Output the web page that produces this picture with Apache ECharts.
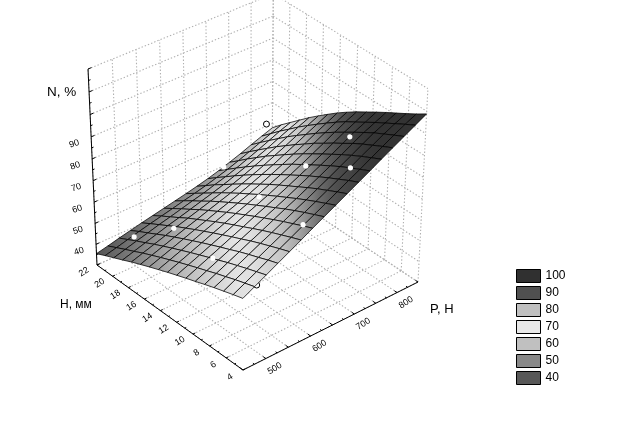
<!DOCTYPE html>
<html><head><meta charset="utf-8">
<style>html,body{margin:0;padding:0;background:#fff}#c{width:625px;height:421px}</style>
<script src="https://cdn.jsdelivr.net/npm/echarts@6/dist/echarts.min.js"></script>
</head><body><div id="c"></div>
<script>
const pTicks=[500,600,700,800];
const pGrid=[450,500,550,600,650,700,750,800,850];
const hTicks=[22,20,18,16,14,12,10,8,6,4];
const nTicks=[40,50,60,70,80,90];
const nGrid=[30,40,50,60,70,80,90,100,110,120];
const legendNames=['100','90','80','70','60','50','40'];
const legendColors=['#303030','#505050','#c0c0c0','#e8e8e8','#c0c0c0','#888888','#585858'];
const colorStops=[[35,0x50],[45,0x88],[55,0xc0],[65,0xea],[75,0xc0],[85,0x55],[95,0x33]];
const surfP=[450,475,500,525,550,575,600,625,650,675,700,725,750,775,800,825,850];
const surfH=[4,5.125,6.25,7.375,8.5,9.625,10.75,11.875,13,14.125,15.25,16.375,17.5,18.625,19.75,20.875,22];
const surfN=[
[63.8,66.6,69.4,72.2,75,77.8,80.7,83.5,86.3,89.1,91.9,94.7,97.6,100.4,103.2,106,108.8],
[62.4,65.1,67.8,70.6,73.3,76,78.8,81.5,84.2,87,89.8,92.5,95.4,98.2,101,103.6,106],
[60.9,63.6,66.2,68.8,71.5,74.1,76.8,79.5,82.1,84.8,87.5,90.3,93.2,95.9,98.7,101.1,103.4],
[59.4,61.9,64.5,67.1,69.7,72.2,74.8,77.4,79.9,82.6,85.2,88,90.8,93.6,96.4,98.6,100.9],
[57.8,60.3,62.8,65.3,67.8,70.2,72.7,75.2,77.6,80.2,82.8,85.5,88.3,91.1,93.8,96.1,98.4],
[56.1,58.5,60.9,63.3,65.7,68.1,70.5,72.8,75.2,77.7,80.3,82.9,85.6,88.3,91.1,93.4,95.8],
[54.5,56.8,59.1,61.4,63.7,65.9,68.3,70.5,72.8,75.2,77.7,80.2,82.9,85.6,88.3,90.7,93.1],
[52.8,55,57.2,59.4,61.6,63.8,66,68.1,70.3,72.7,75,77.5,80.1,82.7,85.5,88.1,90.4],
[51.1,53.2,55.3,57.4,59.5,61.6,63.7,65.7,67.8,70.1,72.3,74.8,77.3,79.9,82.5,85.1,87.5],
[49.3,51.3,53.3,55.3,57.3,59.3,61.3,63.2,65.1,67.3,69.5,71.8,74.3,76.7,79.4,81.9,84.4],
[47.5,49.4,51.3,53.2,55.1,56.9,58.8,60.6,62.5,64.5,66.6,68.8,71.2,73.6,76.1,78.6,81],
[45.6,47.4,49.2,51,52.8,54.5,56.3,58,59.7,61.6,63.6,65.7,68,70.3,72.8,75.2,77.5],
[43.7,45.4,47.1,48.8,50.5,52.1,53.7,55.3,56.9,58.6,60.5,62.5,64.8,67,69.4,71.7,73.9],
[41.6,43.2,44.8,46.4,48,49.4,50.9,52.4,53.9,55.5,57.3,59.2,61.3,63.4,65.7,67.9,70],
[39.6,41.1,42.6,44,45.5,46.8,48.2,49.6,50.9,52.5,54,55.8,57.8,59.8,62,64.2,66.1],
[37.6,38.9,40.3,41.7,43,44.2,45.4,46.7,47.9,49.2,50.7,52.3,54.1,56.1,58.2,60.2,62.2],
[35.5,36.7,38,39.2,40.4,41.5,42.6,43.7,44.8,46,47.3,48.8,50.5,52.3,54.3,56.2,58]
];
const pointP=[836,724,511,559,520,652,604,726,804,727];
const pointH=[22,21.3,20.7,18.4,11.4,13,5.3,11.4,10.3,6.3];
const pointN=[61,52.5,41,46.5,55,66.5,78.5,78,87,90];
const hiddenP=[487];
const hiddenH=[4.4];
const hiddenN=[65];

const F=[243,370],A=[418,282],B=[97,265],D=[272,185],V=[249,3585];
const ax=A[0]-D[0],ay=A[1]-D[1],bx=B[0]-D[0],by=B[1]-D[1],cx=F[0]-D[0],cy=F[1]-D[1];
const det=ax*by-bx*ay;
const wA=(cx*by-bx*cy)/det,wB=(ax*cy-cx*ay)/det;
const wK=-(196/3516)*wB;
function proj(P,H,N){
  const u=(P-450)/400,v=(H-4)/18,w=(N-30)/90;
  const d=1+u*(wA-1)+v*(wB-1)+w*wK;
  return [0,1].map(i=>(F[i]+u*(A[i]*wA-F[i])+v*(B[i]*wB-F[i])+w*wK*V[i])/d);
}
function shade(n){
  const s=colorStops;
  if(n<=s[0][0])return s[0][1];
  for(let i=1;i<s.length;i++){if(n<=s[i][0]){const t=(n-s[i-1][0])/(s[i][0]-s[i-1][0]);return s[i-1][1]+t*(s[i][1]-s[i-1][1]);}}
  return s[s.length-1][1];
}
function col(n){const g=Math.round(shade(n));return 'rgb('+g+','+g+','+g+')';}

const gridLines=[];
pGrid.forEach(p=>{gridLines.push([[p,4,30],[p,22,30]]);gridLines.push([[p,22,30],[p,22,120]]);});
hTicks.forEach(h=>{gridLines.push([[450,h,30],[850,h,30]]);gridLines.push([[850,h,30],[850,h,120]]);});
nGrid.forEach(n=>{gridLines.push([[450,22,n],[850,22,n]]);gridLines.push([[850,22,n],[850,4,n]]);});

const axisLines=[[[450,22,30],[450,4,30]],[[450,4,30],[850,4,30]],[[450,22,30],[450,22,120]]];
for(let p=450;p<=850;p+=25)axisLines.push([[p,4,30],[p,p%50==0?4.32:4.18,30]]);
hTicks.forEach(h=>{axisLines.push([[450,h,30],[455,h,30]]);if(h>4)axisLines.push([[450,h-1,30],[453,h-1,30]]);});
nGrid.forEach(n=>{axisLines.push([[450,22,n],[457,22,n]]);if(n<120)axisLines.push([[450,22,n+5],[454,22,n+5]]);});

const labels=[];
pTicks.forEach(p=>{const q=proj(p,4,30);labels.push([q[0]+9,q[1]+10,String(p),32]);});
hTicks.forEach(h=>{const q=proj(450,h,30);labels.push([q[0]-13,q[1]+7,String(h),32]);});
nTicks.forEach(n=>{const q=proj(450,22,n);labels.push([q[0]-17,q[1]+7,String(n),18]);});
const titles=[[47,92,'N, %',13.5],[60,305,'H, мм',12],[430,309,'P, H',13]];

const cells=[];
for(let j=surfH.length-2;j>=0;j--)for(let i=surfP.length-2;i>=0;i--)cells.push([i,j]);

function lineSeries(data,stroke,dash,width,z){
  return {type:'custom',coordinateSystem:'cartesian2d',silent:true,animation:false,z:z,clip:false,data:data.map((d,i)=>[i]),
   encode:{x:0,y:0},
   renderItem:(ps,api)=>{const l=data[ps.dataIndex];
     const a=api.coord(proj(...l[0])),b=api.coord(proj(...l[1]));
     return {type:'line',shape:{x1:a[0],y1:a[1],x2:b[0],y2:b[1]},style:{stroke:stroke,lineWidth:width,lineDash:dash,fill:null}};}};
}
function pointSeries(ps_,hs_,ns_,z,outlineFirst,outlineAll){
  return {type:'custom',coordinateSystem:'cartesian2d',silent:true,animation:false,z:z,clip:false,data:ps_.map((p,i)=>[i]),encode:{x:0,y:0},
  renderItem:(ps,api)=>{const i=ps.dataIndex;const c=api.coord(proj(ps_[i],hs_[i],ns_[i]));
    const o=outlineAll||(outlineFirst&&i==0);
    return {type:'circle',shape:{cx:c[0],cy:c[1],r:o?3:2.6},style:{fill:'#fff',stroke:o?'#000':null,lineWidth:o?1:0}};}};
}
const series=[
 lineSeries(gridLines,'#b0b0b0',[1.4,2],1.1,1),
 lineSeries(axisLines,'#000000',null,1,2),
 pointSeries(hiddenP,hiddenH,hiddenN,2.5,false,true),
 {type:'custom',coordinateSystem:'cartesian2d',silent:true,animation:false,z:3,clip:false,data:cells,encode:{x:0,y:1},
  renderItem:(ps,api)=>{
    const [i,j]=cells[ps.dataIndex];
    const vs=[[i,j],[i+1,j],[i+1,j+1],[i,j+1]].map(c=>({n:surfN[c[1]][c[0]],p:api.coord(proj(surfP[c[0]],surfH[c[1]],surfN[c[1]][c[0]]))}));
    let lo=vs[0],hi=vs[0];vs.forEach(o=>{if(o.p[0]<lo.p[0])lo=o;if(o.p[0]>hi.p[0])hi=o;});
    const g=new echarts.graphic.LinearGradient(lo.p[0],0,hi.p[0],0,[{offset:0,color:col(lo.n)},{offset:1,color:col(hi.n)}],true);
    return {type:'polygon',shape:{points:vs.map(o=>o.p)},style:{fill:g,stroke:'#000',lineWidth:0.75}};
  }},
 pointSeries(pointP,pointH,pointN,4,true,false),
 {type:'custom',coordinateSystem:'cartesian2d',silent:true,animation:false,z:5,clip:false,data:labels.map((l,i)=>[i]),encode:{x:0,y:0},
  renderItem:(ps,api)=>{const l=labels[ps.dataIndex];const c=api.coord([l[0],l[1]]);
    return {type:'text',x:c[0],y:c[1],rotation:l[3]*Math.PI/180,style:{x:0,y:0,text:l[2],fill:'#000',font:'9px "Liberation Sans"',align:'center',verticalAlign:'middle'}};}},
 {type:'custom',coordinateSystem:'cartesian2d',silent:true,animation:false,z:5,clip:false,data:titles.map((l,i)=>[i]),encode:{x:0,y:0},
  renderItem:(ps,api)=>{const l=titles[ps.dataIndex];const c=api.coord([l[0],l[1]]);
    return {type:'text',x:c[0],y:c[1],style:{x:0,y:0,text:l[2],fill:'#000',font:l[3]+'px "Liberation Sans"',align:'left',verticalAlign:'middle'}};}}
];
legendNames.forEach((n,i)=>series.push({type:'bar',name:n,data:[],itemStyle:{color:legendColors[i]}}));
const chart=echarts.init(document.getElementById('c'),null,{renderer:'canvas',width:625,height:421});
chart.setOption({animation:false,backgroundColor:'#fff',
 grid:{left:0,right:0,top:0,bottom:0},
 xAxis:{type:'value',min:0,max:625,show:false},
 yAxis:{type:'value',min:0,max:421,inverse:true,show:false},
 legend:{orient:'vertical',left:516,top:269,padding:0,itemWidth:24,itemHeight:13,itemGap:3,icon:'rect',selectedMode:false,
   data:legendNames,itemStyle:{borderColor:'#000',borderWidth:1},
   textStyle:{fontFamily:'Liberation Sans',fontSize:12,color:'#000'},align:'left'},
 series:series});
</script></body></html>
